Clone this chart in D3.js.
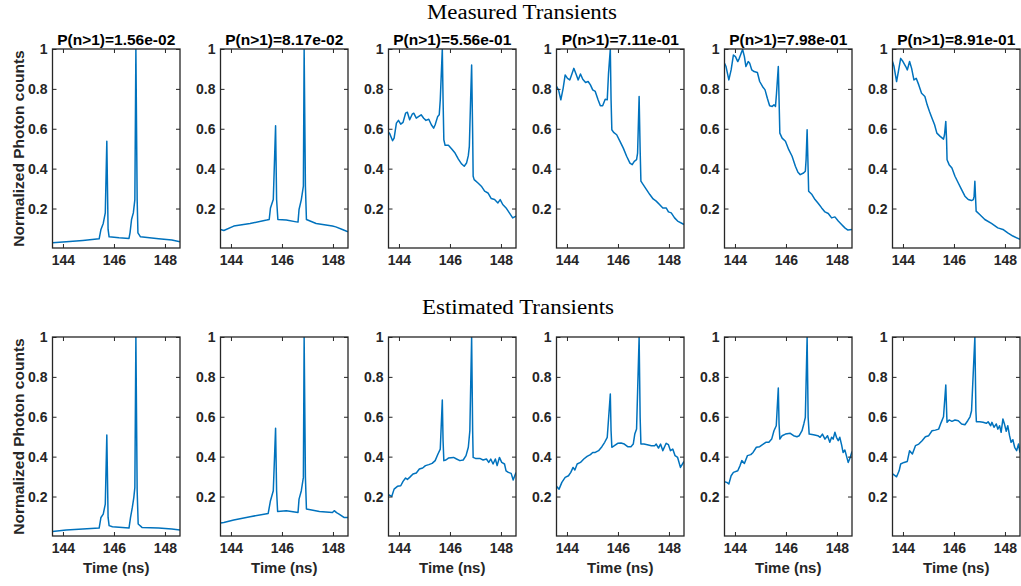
<!DOCTYPE html>
<html>
<head>
<meta charset="utf-8">
<script src="https://cdn.jsdelivr.net/npm/d3@7"></script>
<style>
  html, body { margin: 0; padding: 0; background: #fff; }
  svg { display: block; }
</style>
</head>
<body>
<svg id="chart" width="1021" height="586"></svg>
<script>
// ---------------- DATA ----------------
const rowTitles = ["Measured Transients", "Estimated Transients"];
const pTitles = ["P(n>1)=1.56e-02", "P(n>1)=8.17e-02", "P(n>1)=5.56e-01",
                 "P(n>1)=7.11e-01", "P(n>1)=7.98e-01", "P(n>1)=8.91e-01"];
const xTicks = [144, 146, 148];
const yTicks = [0.2, 0.4, 0.6, 0.8, 1];
const xLabel = "Time (ns)";
const yLabel = "Normalized Photon counts";

// Measured transients: [time (ns), normalized counts]
const measured1 = [[143.59,0.028],[144.13,0.033],[144.78,0.040],[145.42,0.048],[145.49,0.095],[145.58,0.125],[145.66,0.178],[145.72,0.537],[145.77,0.095],[145.81,0.058],[146.20,0.053],[146.59,0.050],[146.63,0.078],[146.69,0.145],[146.76,0.178],[146.82,0.245],[146.86,1.000],[146.91,0.245],[146.94,0.078],[147.04,0.058],[147.75,0.048],[148.27,0.042],[148.59,0.033]];
const measured2 = [[143.59,0.095],[143.72,0.090],[144.11,0.112],[144.75,0.125],[145.40,0.142],[145.50,0.145],[145.55,0.203],[145.66,0.245],[145.75,0.615],[145.79,0.245],[145.84,0.145],[146.17,0.142],[146.56,0.133],[146.63,0.132],[146.67,0.195],[146.76,0.245],[146.84,0.312],[146.87,1.000],[146.92,0.312],[146.96,0.145],[147.34,0.125],[147.98,0.112],[148.11,0.108],[148.37,0.095],[148.59,0.083]];
const measured3 = [[143.59,0.583],[143.64,0.575],[143.75,0.540],[143.81,0.553],[143.90,0.628],[143.98,0.642],[144.07,0.623],[144.16,0.632],[144.26,0.678],[144.33,0.683],[144.42,0.645],[144.52,0.673],[144.58,0.678],[144.68,0.653],[144.78,0.662],[144.87,0.670],[144.97,0.653],[145.06,0.642],[145.17,0.648],[145.27,0.620],[145.36,0.603],[145.42,0.620],[145.52,0.662],[145.58,0.670],[145.62,0.745],[145.70,1.000],[145.73,0.745],[145.76,0.545],[145.81,0.517],[145.94,0.517],[146.07,0.498],[146.20,0.478],[146.33,0.448],[146.46,0.423],[146.56,0.412],[146.65,0.428],[146.72,0.465],[146.76,0.512],[146.81,0.745],[146.85,0.920],[146.89,0.578],[146.91,0.362],[146.95,0.345],[147.10,0.328],[147.23,0.312],[147.36,0.287],[147.49,0.278],[147.62,0.250],[147.75,0.245],[147.88,0.228],[147.97,0.245],[148.07,0.220],[148.20,0.203],[148.33,0.178],[148.46,0.153],[148.59,0.162]];
const measured4 = [[143.59,0.812],[143.67,0.795],[143.76,0.745],[143.85,0.803],[143.93,0.870],[144.02,0.853],[144.11,0.845],[144.18,0.870],[144.27,0.903],[144.37,0.870],[144.44,0.845],[144.53,0.875],[144.62,0.848],[144.73,0.832],[144.83,0.837],[144.92,0.820],[145.01,0.795],[145.11,0.787],[145.22,0.745],[145.31,0.715],[145.40,0.715],[145.50,0.748],[145.58,0.745],[145.63,0.878],[145.70,1.000],[145.73,0.745],[145.76,0.595],[145.83,0.582],[145.95,0.570],[146.08,0.537],[146.21,0.503],[146.34,0.462],[146.47,0.428],[146.56,0.420],[146.64,0.437],[146.73,0.445],[146.77,0.478],[146.83,0.762],[146.87,0.495],[146.90,0.337],[146.99,0.320],[147.12,0.295],[147.25,0.270],[147.38,0.248],[147.50,0.237],[147.63,0.220],[147.76,0.203],[147.89,0.203],[147.98,0.183],[148.09,0.178],[148.22,0.153],[148.34,0.137],[148.59,0.120]];
const measured5 = [[143.59,0.928],[143.65,0.912],[143.76,0.845],[143.85,0.895],[143.94,0.970],[144.02,0.962],[144.11,0.937],[144.17,0.953],[144.24,0.978],[144.30,0.998],[144.37,0.962],[144.43,0.912],[144.52,0.937],[144.58,0.928],[144.66,0.895],[144.75,0.887],[144.88,0.882],[144.97,0.837],[145.08,0.812],[145.18,0.795],[145.27,0.753],[145.36,0.715],[145.46,0.712],[145.53,0.720],[145.59,0.712],[145.63,0.778],[145.70,0.912],[145.73,0.745],[145.76,0.578],[145.85,0.553],[145.98,0.537],[146.11,0.495],[146.24,0.462],[146.37,0.412],[146.47,0.382],[146.56,0.370],[146.69,0.378],[146.76,0.387],[146.79,0.445],[146.83,0.595],[146.86,0.445],[146.89,0.287],[147.02,0.270],[147.14,0.245],[147.27,0.225],[147.40,0.203],[147.53,0.183],[147.66,0.175],[147.79,0.153],[147.92,0.158],[148.05,0.137],[148.18,0.120],[148.31,0.103],[148.43,0.092],[148.59,0.095]];
const measured6 = [[143.59,0.937],[143.65,0.912],[143.75,0.837],[143.82,0.887],[143.91,0.953],[144.00,0.937],[144.11,0.912],[144.17,0.895],[144.26,0.937],[144.34,0.903],[144.43,0.845],[144.52,0.853],[144.62,0.820],[144.73,0.778],[144.86,0.762],[144.95,0.720],[145.04,0.687],[145.14,0.653],[145.24,0.620],[145.33,0.578],[145.46,0.562],[145.59,0.548],[145.63,0.570],[145.68,0.637],[145.71,0.545],[145.73,0.445],[145.81,0.420],[145.92,0.403],[146.04,0.362],[146.17,0.328],[146.30,0.295],[146.43,0.262],[146.56,0.245],[146.69,0.240],[146.76,0.245],[146.79,0.262],[146.82,0.337],[146.85,0.245],[146.87,0.187],[147.01,0.170],[147.21,0.145],[147.47,0.125],[147.72,0.103],[147.92,0.095],[148.11,0.078],[148.31,0.062],[148.59,0.045]];

// Estimated transients: [time (ns), normalized counts]
const estimated1 = [[143.59,0.025],[144.13,0.032],[144.78,0.037],[145.42,0.042],[145.49,0.095],[145.58,0.112],[145.66,0.162],[145.72,0.508],[145.77,0.095],[145.81,0.054],[145.94,0.048],[146.59,0.042],[146.65,0.095],[146.72,0.145],[146.78,0.196],[146.82,0.246],[146.86,1.000],[146.91,0.229],[146.95,0.062],[147.10,0.045],[147.75,0.042],[148.27,0.037],[148.59,0.032]];
const estimated2 = [[143.59,0.067],[143.72,0.070],[144.11,0.082],[144.75,0.099],[145.46,0.115],[145.55,0.179],[145.66,0.229],[145.75,0.542],[145.79,0.229],[145.83,0.125],[146.17,0.129],[146.63,0.120],[146.67,0.187],[146.76,0.229],[146.84,0.296],[146.87,1.000],[146.92,0.296],[146.96,0.137],[147.47,0.125],[147.98,0.120],[148.05,0.129],[148.14,0.119],[148.24,0.112],[148.43,0.095],[148.59,0.095]];
const estimated3 = [[143.59,0.209],[143.72,0.201],[143.81,0.237],[143.94,0.251],[144.07,0.254],[144.16,0.276],[144.26,0.293],[144.33,0.286],[144.42,0.296],[144.55,0.313],[144.68,0.318],[144.80,0.338],[144.93,0.343],[145.04,0.355],[145.17,0.360],[145.30,0.366],[145.42,0.380],[145.53,0.413],[145.62,0.438],[145.70,0.684],[145.73,0.480],[145.76,0.380],[145.84,0.383],[145.94,0.393],[146.14,0.396],[146.26,0.388],[146.39,0.380],[146.52,0.383],[146.63,0.405],[146.72,0.447],[146.78,0.530],[146.85,1.000],[146.89,0.530],[146.91,0.396],[147.00,0.391],[147.17,0.391],[147.30,0.383],[147.43,0.388],[147.52,0.371],[147.60,0.388],[147.69,0.363],[147.78,0.388],[147.85,0.355],[147.94,0.396],[148.03,0.371],[148.14,0.363],[148.20,0.329],[148.29,0.321],[148.40,0.316],[148.48,0.283],[148.59,0.321]];
const estimated4 = [[143.59,0.251],[143.69,0.237],[143.80,0.271],[143.93,0.296],[144.06,0.304],[144.15,0.321],[144.24,0.346],[144.31,0.333],[144.40,0.363],[144.53,0.371],[144.66,0.388],[144.79,0.401],[144.92,0.410],[145.01,0.421],[145.11,0.421],[145.24,0.430],[145.37,0.450],[145.48,0.472],[145.58,0.497],[145.70,0.714],[145.73,0.530],[145.76,0.447],[145.86,0.455],[145.99,0.467],[146.12,0.468],[146.25,0.463],[146.38,0.450],[146.51,0.450],[146.60,0.463],[146.66,0.513],[146.73,0.538],[146.83,1.000],[146.87,0.597],[146.90,0.463],[147.02,0.463],[147.15,0.460],[147.31,0.455],[147.44,0.455],[147.50,0.463],[147.59,0.443],[147.67,0.463],[147.76,0.430],[147.89,0.467],[147.98,0.460],[148.06,0.430],[148.15,0.438],[148.24,0.405],[148.34,0.396],[148.45,0.346],[148.59,0.376]];
const estimated5 = [[143.59,0.274],[143.68,0.271],[143.76,0.263],[143.85,0.304],[143.94,0.321],[144.11,0.329],[144.20,0.355],[144.27,0.380],[144.37,0.366],[144.49,0.405],[144.62,0.410],[144.71,0.421],[144.84,0.447],[144.97,0.450],[145.08,0.460],[145.21,0.472],[145.33,0.472],[145.44,0.488],[145.53,0.530],[145.62,0.555],[145.70,0.744],[145.73,0.564],[145.76,0.488],[145.85,0.505],[145.98,0.513],[146.17,0.517],[146.30,0.505],[146.43,0.500],[146.52,0.505],[146.63,0.530],[146.70,0.564],[146.76,0.597],[146.83,1.000],[146.87,0.597],[146.91,0.513],[147.08,0.510],[147.25,0.505],[147.34,0.497],[147.43,0.513],[147.53,0.488],[147.63,0.505],[147.72,0.472],[147.79,0.497],[147.85,0.488],[147.92,0.522],[147.98,0.497],[148.05,0.480],[148.11,0.497],[148.18,0.460],[148.24,0.421],[148.31,0.433],[148.37,0.405],[148.44,0.371],[148.52,0.396],[148.59,0.426]];
const estimated6 = [[143.59,0.313],[143.65,0.308],[143.75,0.299],[143.85,0.329],[143.91,0.363],[144.04,0.371],[144.17,0.376],[144.26,0.430],[144.37,0.413],[144.49,0.455],[144.62,0.463],[144.75,0.480],[144.88,0.500],[145.01,0.505],[145.14,0.530],[145.27,0.533],[145.40,0.538],[145.50,0.572],[145.59,0.600],[145.68,0.759],[145.72,0.597],[145.73,0.572],[145.81,0.584],[145.92,0.577],[146.04,0.584],[146.17,0.580],[146.30,0.564],[146.43,0.560],[146.54,0.580],[146.63,0.600],[146.69,0.630],[146.82,1.000],[146.86,0.630],[146.88,0.575],[147.01,0.575],[147.14,0.572],[147.27,0.567],[147.34,0.575],[147.44,0.555],[147.49,0.572],[147.57,0.547],[147.66,0.564],[147.72,0.538],[147.79,0.555],[147.85,0.522],[147.92,0.589],[147.98,0.564],[148.05,0.527],[148.11,0.555],[148.18,0.505],[148.24,0.472],[148.31,0.485],[148.38,0.447],[148.46,0.430],[148.53,0.463],[148.59,0.420]];

const measuredSeries = [measured1, measured2, measured3, measured4, measured5, measured6];
const estimatedSeries = [estimated1, estimated2, estimated3, estimated4, estimated5, estimated6];
const rows = [measuredSeries, estimatedSeries];

// ---------------- LAYOUT ----------------
const svg = d3.select("#chart");
const panelLeft0 = 52.5, panelStep = 168, panelW = 127.5, panelH = 199;
const rowTop = [49, 337];
const axisColor = "#262626";
const lineColor = "#0072BD";
const sansFont = "'Liberation Sans', Arial, Helvetica, sans-serif";
const serifFont = "'Liberation Serif', 'Times New Roman', serif";

const x = d3.scaleLinear().domain([143.59, 148.59]).range([0, panelW]);
const y = d3.scaleLinear().domain([0.002, 1]).range([panelH, 0]);
const yFmt = d3.format("~g");

// Row titles
const rowTitleX = [522, 518];
const rowTitleY = [18.5, 314];
const rowTitleW = [190, 192];
rows.forEach((_, r) => {
  svg.append("text")
    .attr("x", rowTitleX[r]).attr("y", rowTitleY[r])
    .attr("text-anchor", "middle")
    .attr("font-family", serifFont)
    .attr("font-size", 20)
    .attr("textLength", rowTitleW[r])
    .attr("lengthAdjust", "spacingAndGlyphs")
    .attr("fill", "#000")
    .text(rowTitles[r]);
});

const line = d3.line().x(d => x(d[0])).y(d => y(d[1]));

rows.forEach((series, r) => {
  series.forEach((data, i) => {
    const g = svg.append("g")
      .attr("transform", `translate(${panelLeft0 + i * panelStep},${rowTop[r]})`);
    const clipId = `clip-${r}-${i}`;
    g.append("clipPath").attr("id", clipId)
      .append("rect").attr("x", 0).attr("y", 0).attr("width", panelW).attr("height", panelH);

    // data line
    g.append("path")
      .datum(data)
      .attr("clip-path", `url(#${clipId})`)
      .attr("fill", "none")
      .attr("stroke", lineColor)
      .attr("stroke-width", 1.5)
      .attr("stroke-linejoin", "round")
      .attr("d", line);

    // axes (ticks inward, box)
    const styleAxis = (sel) => {
      sel.select(".domain").remove();
      sel.selectAll(".tick line").attr("stroke", axisColor).attr("stroke-width", 1);
      sel.selectAll(".tick text")
        .attr("fill", axisColor)
        .attr("font-family", sansFont)
        .attr("font-weight", "bold")
        .attr("font-size", 14);
    };
    g.append("g").attr("transform", `translate(0,${panelH})`)
      .call(d3.axisBottom(x).tickValues(xTicks).tickSizeInner(-4).tickSizeOuter(0).tickPadding(7).tickFormat(d3.format("d")))
      .call(styleAxis);
    g.append("g")
      .call(d3.axisTop(x).tickValues(xTicks).tickSizeInner(-4).tickSizeOuter(0).tickFormat(""))
      .call(styleAxis);
    g.append("g")
      .call(d3.axisLeft(y).tickValues(yTicks).tickSizeInner(-4).tickSizeOuter(0).tickPadding(5).tickFormat(yFmt))
      .call(styleAxis);
    g.append("g").attr("transform", `translate(${panelW},0)`)
      .call(d3.axisRight(y).tickValues(yTicks).tickSizeInner(-4).tickSizeOuter(0).tickFormat(""))
      .call(styleAxis);

    g.append("rect")
      .attr("x", 0).attr("y", 0).attr("width", panelW).attr("height", panelH)
      .attr("fill", "none").attr("stroke", axisColor).attr("stroke-width", 1.3);

    // panel title (top row only)
    if (r === 0) {
      g.append("text")
        .attr("x", panelW / 2).attr("y", -4)
        .attr("text-anchor", "middle")
        .attr("font-family", sansFont).attr("font-weight", "bold")
        .attr("font-size", 15.5).attr("fill", "#000")
        .text(pTitles[i]);
    }
    // x label (bottom row only)
    if (r === 1) {
      g.append("text")
        .attr("x", panelW / 2).attr("y", panelH + 37)
        .attr("text-anchor", "middle")
        .attr("font-family", sansFont).attr("font-weight", "bold")
        .attr("font-size", 15).attr("fill", axisColor)
        .text(xLabel);
    }
    // y label (first column only)
    if (i === 0) {
      g.append("text")
        .attr("transform", `translate(-28.5,${panelH / 2}) rotate(-90)`)
        .attr("text-anchor", "middle")
        .attr("font-family", sansFont).attr("font-weight", "bold")
        .attr("font-size", 15.5).attr("fill", axisColor)
        .text(yLabel);
    }
  });
});
</script>
</body>
</html>
